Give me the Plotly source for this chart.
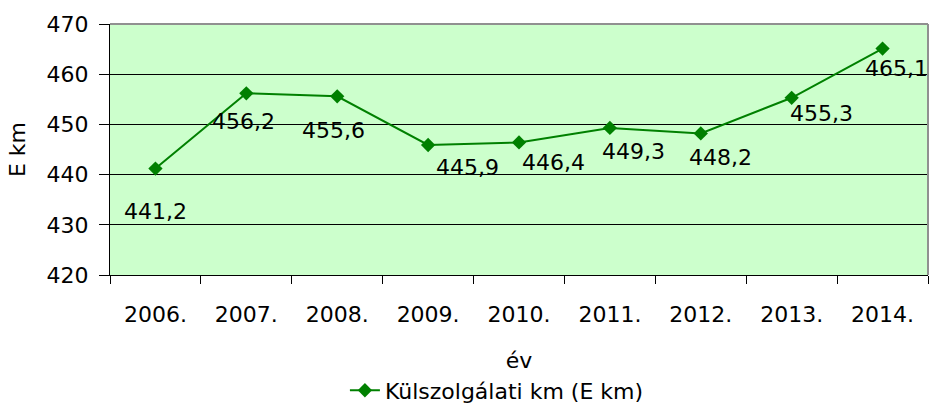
import plotly.graph_objects as go

years = ["2006.", "2007.", "2008.", "2009.", "2010.", "2011.", "2012.", "2013.", "2014."]
values = [441.2, 456.2, 455.6, 445.9, 446.4, 449.3, 448.2, 455.3, 465.1]
labels = ["441,2", "456,2", "455,6", "445,9", "446,4", "449,3", "448,2", "455,3", "465,1"]
series_name = "Külszolgálati km (E km)"

# label offsets (pixels) relative to each point, as placed in the original
label_dx = [0, -3, -4, 39, 34, 24, 20, 30, 14]
label_dy = [-43, -28, -34, -23, -20, -24, -24, -16, -20]

FONT = "DejaVu Sans"
FS = 22

idx = list(range(len(years)))
bounds = [i - 0.5 for i in range(len(years) + 1)]

fig = go.Figure()
fig.add_trace(go.Scatter(
    x=idx, y=values, mode="lines+markers", name=series_name,
    line=dict(color="#008000", width=2),
    marker=dict(symbol="diamond", size=11, color="#008000"),
))

for i, v, t, dx, dy in zip(idx, values, labels, label_dx, label_dy):
    fig.add_annotation(x=i, y=v, text=t, showarrow=False, xshift=dx, yshift=dy,
                       font=dict(family=FONT, size=FS, color="black"))

xr = [-0.5, len(years) - 0.5]
fig.update_layout(
    width=929, height=410,
    margin=dict(l=110, r=1, t=24, b=135, autoexpand=False),
    paper_bgcolor="white", plot_bgcolor="#CCFFCC",
    font=dict(family=FONT, size=FS, color="black"),
    showlegend=True,
    legend=dict(orientation="h", x=0.473, xanchor="center", y=-0.46, yanchor="middle",
                font=dict(family=FONT, size=FS), bgcolor="rgba(0,0,0,0)"),
    xaxis=dict(range=xr, tickmode="array", tickvals=idx, ticktext=years, ticks="",
               showline=True, linecolor="black", linewidth=1, automargin=False,
               showgrid=False, zeroline=False, ticklabelstandoff=20,
               title=dict(text="év", standoff=26, font=dict(family=FONT, size=FS))),
    xaxis2=dict(range=xr, overlaying="x", anchor="y", side="bottom",
                tickmode="array", tickvals=bounds, ticktext=[""] * len(bounds),
                ticks="outside", ticklen=8, tickcolor="black", automargin=False,
                showgrid=False, zeroline=False, showline=False),
    yaxis=dict(range=[420, 470], dtick=10, ticks="outside", ticklen=10,
               tickcolor="black", showline=True, linecolor="black", linewidth=1,
               showgrid=True, gridcolor="black", gridwidth=1, zeroline=False,
               ticklabelstandoff=6, automargin=False,
               title=dict(text="E km", standoff=14, font=dict(family=FONT, size=FS))),
)

# dummy invisible trace to activate xaxis2
fig.add_trace(go.Scatter(x=[xr[0]], y=[420], xaxis="x2", mode="markers",
                         marker=dict(opacity=0), showlegend=False, hoverinfo="skip"))

# gray frame on top and right of the plot area
fig.add_shape(type="line", xref="paper", yref="paper", x0=0, x1=1, y0=1, y1=1,
              line=dict(color="#909090", width=2))
fig.add_shape(type="line", xref="paper", yref="paper", x0=1, x1=1, y0=0, y1=1,
              line=dict(color="#909090", width=2))

fig.write_html("out.html", config={"displayModeBar": False},
               post_script="document.body.style.margin='0';document.body.style.overflow='hidden';")
